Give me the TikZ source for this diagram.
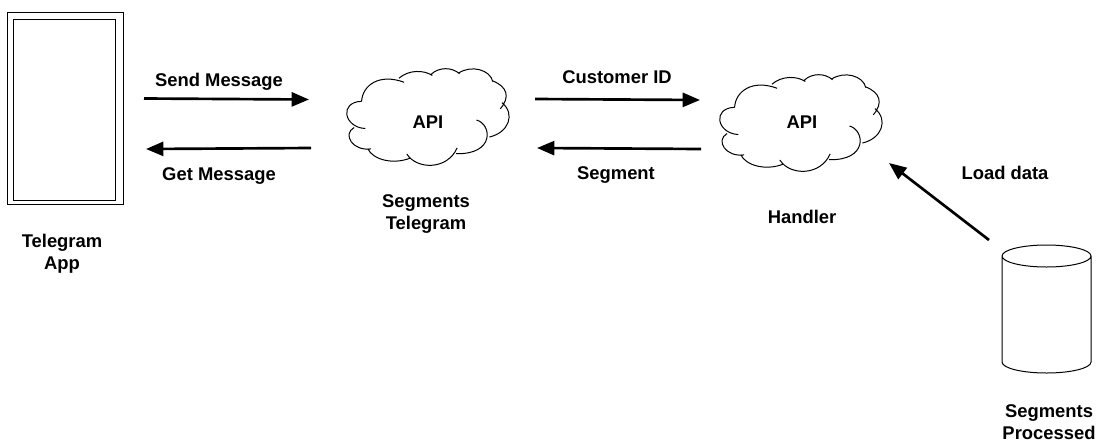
\documentclass[tikz,border=0pt]{standalone}
\usepackage{fontspec}
\setmainfont{Liberation Sans}
\usetikzlibrary{arrows.meta}

\begin{document}
\begin{tikzpicture}[x=0.75pt, y=-0.75pt, font=\bfseries\fontsize{13.8}{16.5}\selectfont]

        % Setup the styles
        \tikzset{line box/.style={draw, line width=0.75pt},
                 label text/.style={align=center, inner sep=0pt},
                 flow arrow/.style={-{Triangle[length=13pt, width=10.5pt]}, line width=2pt},
                 cloud line/.pic={
                     \draw[line width=0.75pt, fill=white, scale=0.34]
                     (97,128) .. controls (100,80) and (150,45) .. (222,72)
                     (207,60) .. controls (235,35) and (280,35) .. (305,52)
                     (300,50) .. controls (325,25) and (365,28) .. (385,47)
                     (382,45) .. controls (420,20) and (475,35) .. (483,70)
                     (483,68) .. controls (525,85) and (535,115) .. (505,150)
                     (510,132) .. controls (550,165) and (530,220) .. (473,233)
                     (435,183) .. controls (480,195) and (490,285) .. (375,282)
                     (378,265) .. controls (350,330) and (260,330) .. (230,283)
                     (240,295) .. controls (190,315) and (130,300) .. (115,267)
                     (125,268) .. controls (70,275) and (40,225) .. (75,205)
                     (108,208) .. controls (45,205) and (30,130) .. (97,128);
                 }}

        \useasboundingbox (0, 0) rectangle (1112, 447);

        % Draw the shapes
        \node[line box, minimum width=87pt, minimum height=144.2pt, inner sep=0pt] at (65.3, 108.8) (Phone) {};
        \node[line box, minimum width=76.8pt, minimum height=135.75pt, inner sep=0pt] at (64.5, 109.8) (Screen) {};
        \pic at (328.6, 57.8) {cloud line};
        \pic at (701.6, 63.8) {cloud line};
        \node[label text] at (428, 122) (SegApi) {API};
        \node[label text] at (802, 122) (HandApi) {API};

        % The cylinder
        \draw[line box] (1002, 256) arc[start angle=180, end angle=-180, x radius=44.5, y radius=11]
              (1002, 256) -- (1002, 362) arc[start angle=180, end angle=0, x radius=44.5, y radius=11] -- (1091, 256);

        % Draw the labels
        \node[label text] at (62, 254) (AppText) {Telegram\\App};
        \node[label text] at (426, 214) (SegText) {Segments\\Telegram};
        \node[label text] at (802, 217) (HandText) {Handler};
        \node[label text] at (1049, 422) (DbText) {Segments\\Processed};
        \node[label text] at (219, 82) (SendText) {Send Message};
        \node[label text] at (219, 176) (GetText) {Get Message};
        \node[label text] at (617, 77) (IdText) {Customer ID};
        \node[label text] at (616, 175) (SegmentText) {Segment};
        \node[label text] at (1005, 173) (LoadText) {Load data};

        % Arrow ends
        \coordinate (a1) at (144, 98.5);  \coordinate (b1) at (309, 99.5);
        \coordinate (a2) at (311, 148);   \coordinate (b2) at (146, 149);
        \coordinate (a3) at (535, 99);    \coordinate (b3) at (700, 100);
        \coordinate (a4) at (701, 149);   \coordinate (b4) at (537, 148);
        \coordinate (a5) at (989, 240);   \coordinate (b5) at (889, 163);

        % Connect them
        \draw[flow arrow] (a1) -- (b1);
        \draw[flow arrow] (a2) -- (b2);
        \draw[flow arrow] (a3) -- (b3);
        \draw[flow arrow] (a4) -- (b4);
        \draw[flow arrow] (a5) -- (b5);
    \end{tikzpicture}
\end{document}
